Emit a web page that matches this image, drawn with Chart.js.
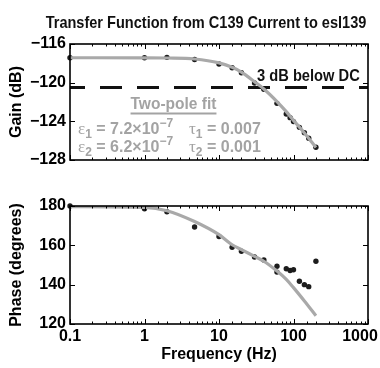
<!DOCTYPE html>
<html><head><meta charset="utf-8">
<script src="https://cdn.jsdelivr.net/npm/chart.js@4"></script>
<style>
html,body{margin:0;padding:0;background:#fff;}
body{width:380px;height:368px;overflow:hidden;position:relative;}
canvas{position:absolute;left:0;}
#c1{top:0;} #c2{top:180px;}
</style></head><body>
<canvas id="c1" width="380" height="180"></canvas>
<canvas id="c2" width="380" height="188"></canvas>
<script>
// ---------- data ----------
const titleText = 'Transfer Function from C139 Current to esl139';
const gainFreq = [0.1,1,2,4.7,10,15,20,30,40,60,80,90,100,120,140,160,200];
const gainDb   = [-117.42,-117.42,-117.38,-117.6,-118.07,-118.45,-118.97,-120.03,-120.69,-122.14,-123.24,-123.62,-124.03,-124.62,-125.17,-125.75,-126.68];
const phaseFreq = [0.1,1,2,4.7,10,15,20,30,40,60,60,80,90,100,120,140,160,200];
const phaseDeg  = [180,178.6,177.1,169.3,164.5,159.0,157.0,154.1,152.6,149.4,146.4,148.1,147.2,147.6,141.7,140.0,139.0,151.9];
const fitFreq  = [0.1,1,2,4.7,10,15,20,30,40,60,80,100,140,200];
const gainFit  = [-117.42,-117.43,-117.45,-117.55,-117.95,-118.4,-118.9,-119.9,-120.65,-121.95,-123.0,-123.9,-125.2,-126.7];
const phaseFit = [179.7,179.3,177.6,172.1,165.4,160.3,157.8,154.4,151.9,146.9,142.7,138.5,131.7,124.2];
const dcLevelFreq = [0.1,1000];
const dcLevelDb = [-120.5,-120.5];
const gainTicks = [-128,-124,-120,-116];
const phaseTicks = [120,140,160,180];
const freqTicks = [0.1,1,10,100,1000];

const FONT = "'Liberation Sans', Arial, Helvetica, sans-serif";
const GRAY = '#a3a3a3';
const DOT = '#1c1c1c';

function pts(xs, ys){ return xs.map((x,i)=>({x:x,y:ys[i]})); }
function isMajor(v){ const l=Math.log10(v); return Math.abs(l-Math.round(l))<1e-9; }

const boxTicks = {
  id:'boxTicks',
  afterDatasetsDraw(chart){
    const {ctx, chartArea:a, scales:{x,y}} = chart;
    ctx.save();
    ctx.strokeStyle='#000'; ctx.lineWidth=1;
    ctx.beginPath();
    x.ticks.forEach(t=>{
      const px = Math.round(x.getPixelForValue(t.value))+0.5;
      const L = isMajor(t.value)?5:2.5;
      ctx.moveTo(px,a.bottom); ctx.lineTo(px,a.bottom-L);
      ctx.moveTo(px,a.top); ctx.lineTo(px,a.top+L);
    });
    y.ticks.forEach(t=>{
      const py = Math.round(y.getPixelForValue(t.value))+0.5;
      ctx.moveTo(a.left,py); ctx.lineTo(a.left+5,py);
      ctx.moveTo(a.right,py); ctx.lineTo(a.right-5,py);
    });
    ctx.stroke();
    ctx.lineWidth=1.6;
    ctx.strokeRect(a.left,a.top,a.right-a.left,a.bottom-a.top);
    ctx.restore();
  }
};

function drawRuns(ctx, x, y, parts){
  parts.forEach(p=>{
    ctx.font = p.f;
    ctx.fillText(p.t, x, y+(p.dy||0));
    x += ctx.measureText(p.t).width;
  });
}
function fillScaled(ctx, text, x, y, sx){
  ctx.save();
  ctx.translate(x, y);
  ctx.scale(sx, 1);
  ctx.fillText(text, 0, 0);
  ctx.restore();
}

const topNotes = {
  id:'topNotes',
  afterDraw(chart){
    const ctx = chart.ctx;
    ctx.save();
    ctx.fillStyle='#111';
    ctx.textBaseline='alphabetic';
    ctx.textAlign='center';
    ctx.font = 'bold 17px '+FONT;
    fillScaled(ctx, titleText, 206, 27.5, 0.855);
    ctx.textAlign='left';
    ctx.font = 'bold 16.5px '+FONT;
    fillScaled(ctx, '3 dB below DC', 257, 80.5, 0.89);
    ctx.fillStyle = GRAY;
    ctx.textAlign='center';
    ctx.font = 'bold 16px '+FONT;
    fillScaled(ctx, 'Two-pole fit', 173.5, 109, 0.97);
    const w = ctx.measureText('Two-pole fit').width*0.97;
    ctx.fillRect(173.5-w/2, 112.5, w, 2);
    ctx.textAlign='left';
    const G = "17px 'Liberation Serif', 'DejaVu Serif', serif";
    const M = 'bold 16px '+FONT;
    const S = 'bold 12px '+FONT;
    drawRuns(ctx, 78, 134, [{t:'ε',f:G},{t:'1',f:S,dy:4},{t:' = 7.2×10',f:M},{t:'−7',f:S,dy:-7}]);
    drawRuns(ctx, 78, 152, [{t:'ε',f:G},{t:'2',f:S,dy:4},{t:' = 6.2×10',f:M},{t:'−7',f:S,dy:-7}]);
    drawRuns(ctx, 189, 134, [{t:'τ',f:G},{t:'1',f:S,dy:4},{t:' = 0.007',f:M}]);
    drawRuns(ctx, 189, 152, [{t:'τ',f:G},{t:'2',f:S,dy:4},{t:' = 0.001',f:M}]);
    ctx.restore();
  }
};

const tickFont = {family:FONT, size:16, weight:'bold'};
const titleFont = {family:FONT, size:16, weight:'bold'};

function xScale(showLabels, h){
  return {
    type:'logarithmic', min:0.1, max:1000,
    grid:{display:false, drawTicks:false}, border:{display:false},
    ticks:{display:showLabels, autoSkip:false, maxRotation:0, padding:3, color:'#000', font:tickFont,
      callback:(v)=>{ if(!freqTicks.some(f=>Math.abs(f-v)/f<1e-6)) return ''; return v===1000? '1000\u2003' : String(v); }},
    title:{display:showLabels, text:'Frequency (Hz)', color:'#000', font:titleFont, padding:{top:0,bottom:3.4}},
    afterFit:(s)=>{ s.height=h; s.paddingRight=0; s.paddingLeft=0; }
  };
}
function yScale(min,max,step,labels,title){
  return {
    type:'linear', min:min, max:max,
    grid:{display:false, drawTicks:false}, border:{display:false},
    ticks:{stepSize:step, padding:4, color:'#000', font:tickFont,
      callback:(v)=> labels.includes(v) ? (v<0?'\u2212'+Math.abs(v):String(v)) : ''},
    title:{display:true, text:title, color:'#000', font:titleFont, padding:{top:7,bottom:0}},
    afterFit:(s)=>{ s.width=70; }
  };
}

const common = {
  responsive:false, animation:false, devicePixelRatio:1,
  plugins:{legend:{display:false}, tooltip:{enabled:false}, title:{display:false}},
  elements:{point:{radius:0}, line:{tension:0}}
};

new Chart(document.getElementById('c1'), {
  type:'scatter',
  data:{datasets:[
    {type:'line', data:pts(fitFreq,gainFit), borderColor:'#a9a9a9', borderWidth:3.2, pointRadius:0, cubicInterpolationMode:'monotone', fill:false},
    {type:'line', data:pts(dcLevelFreq,dcLevelDb), borderColor:'#111', borderWidth:3, borderDash:[22,15], borderDashOffset:7, pointRadius:0, fill:false},
    {data:pts(gainFreq,gainDb), pointRadius:2.7, pointBackgroundColor:DOT, pointBorderWidth:0, clip:false}
  ]},
  options:Object.assign({}, common, {
    layout:{padding:{top:44,right:12,left:0,bottom:0}},
    scales:{ x:xScale(false,20), y:yScale(-128,-116,2,gainTicks,'Gain (dB)') }
  }),
  plugins:[boxTicks, topNotes]
});

new Chart(document.getElementById('c2'), {
  type:'scatter',
  data:{datasets:[
    {type:'line', data:pts(fitFreq,phaseFit), borderColor:'#a9a9a9', borderWidth:3.2, pointRadius:0, cubicInterpolationMode:'monotone', fill:false},
    {data:pts(phaseFreq,phaseDeg), pointRadius:2.7, pointBackgroundColor:DOT, pointBorderWidth:0, clip:false}
  ]},
  options:Object.assign({}, common, {
    layout:{padding:{top:26,right:12,left:0,bottom:0}},
    scales:{ x:xScale(true,44), y:yScale(120,180,10,phaseTicks,'Phase (degrees)') }
  }),
  plugins:[boxTicks]
});
</script>
</body></html>
